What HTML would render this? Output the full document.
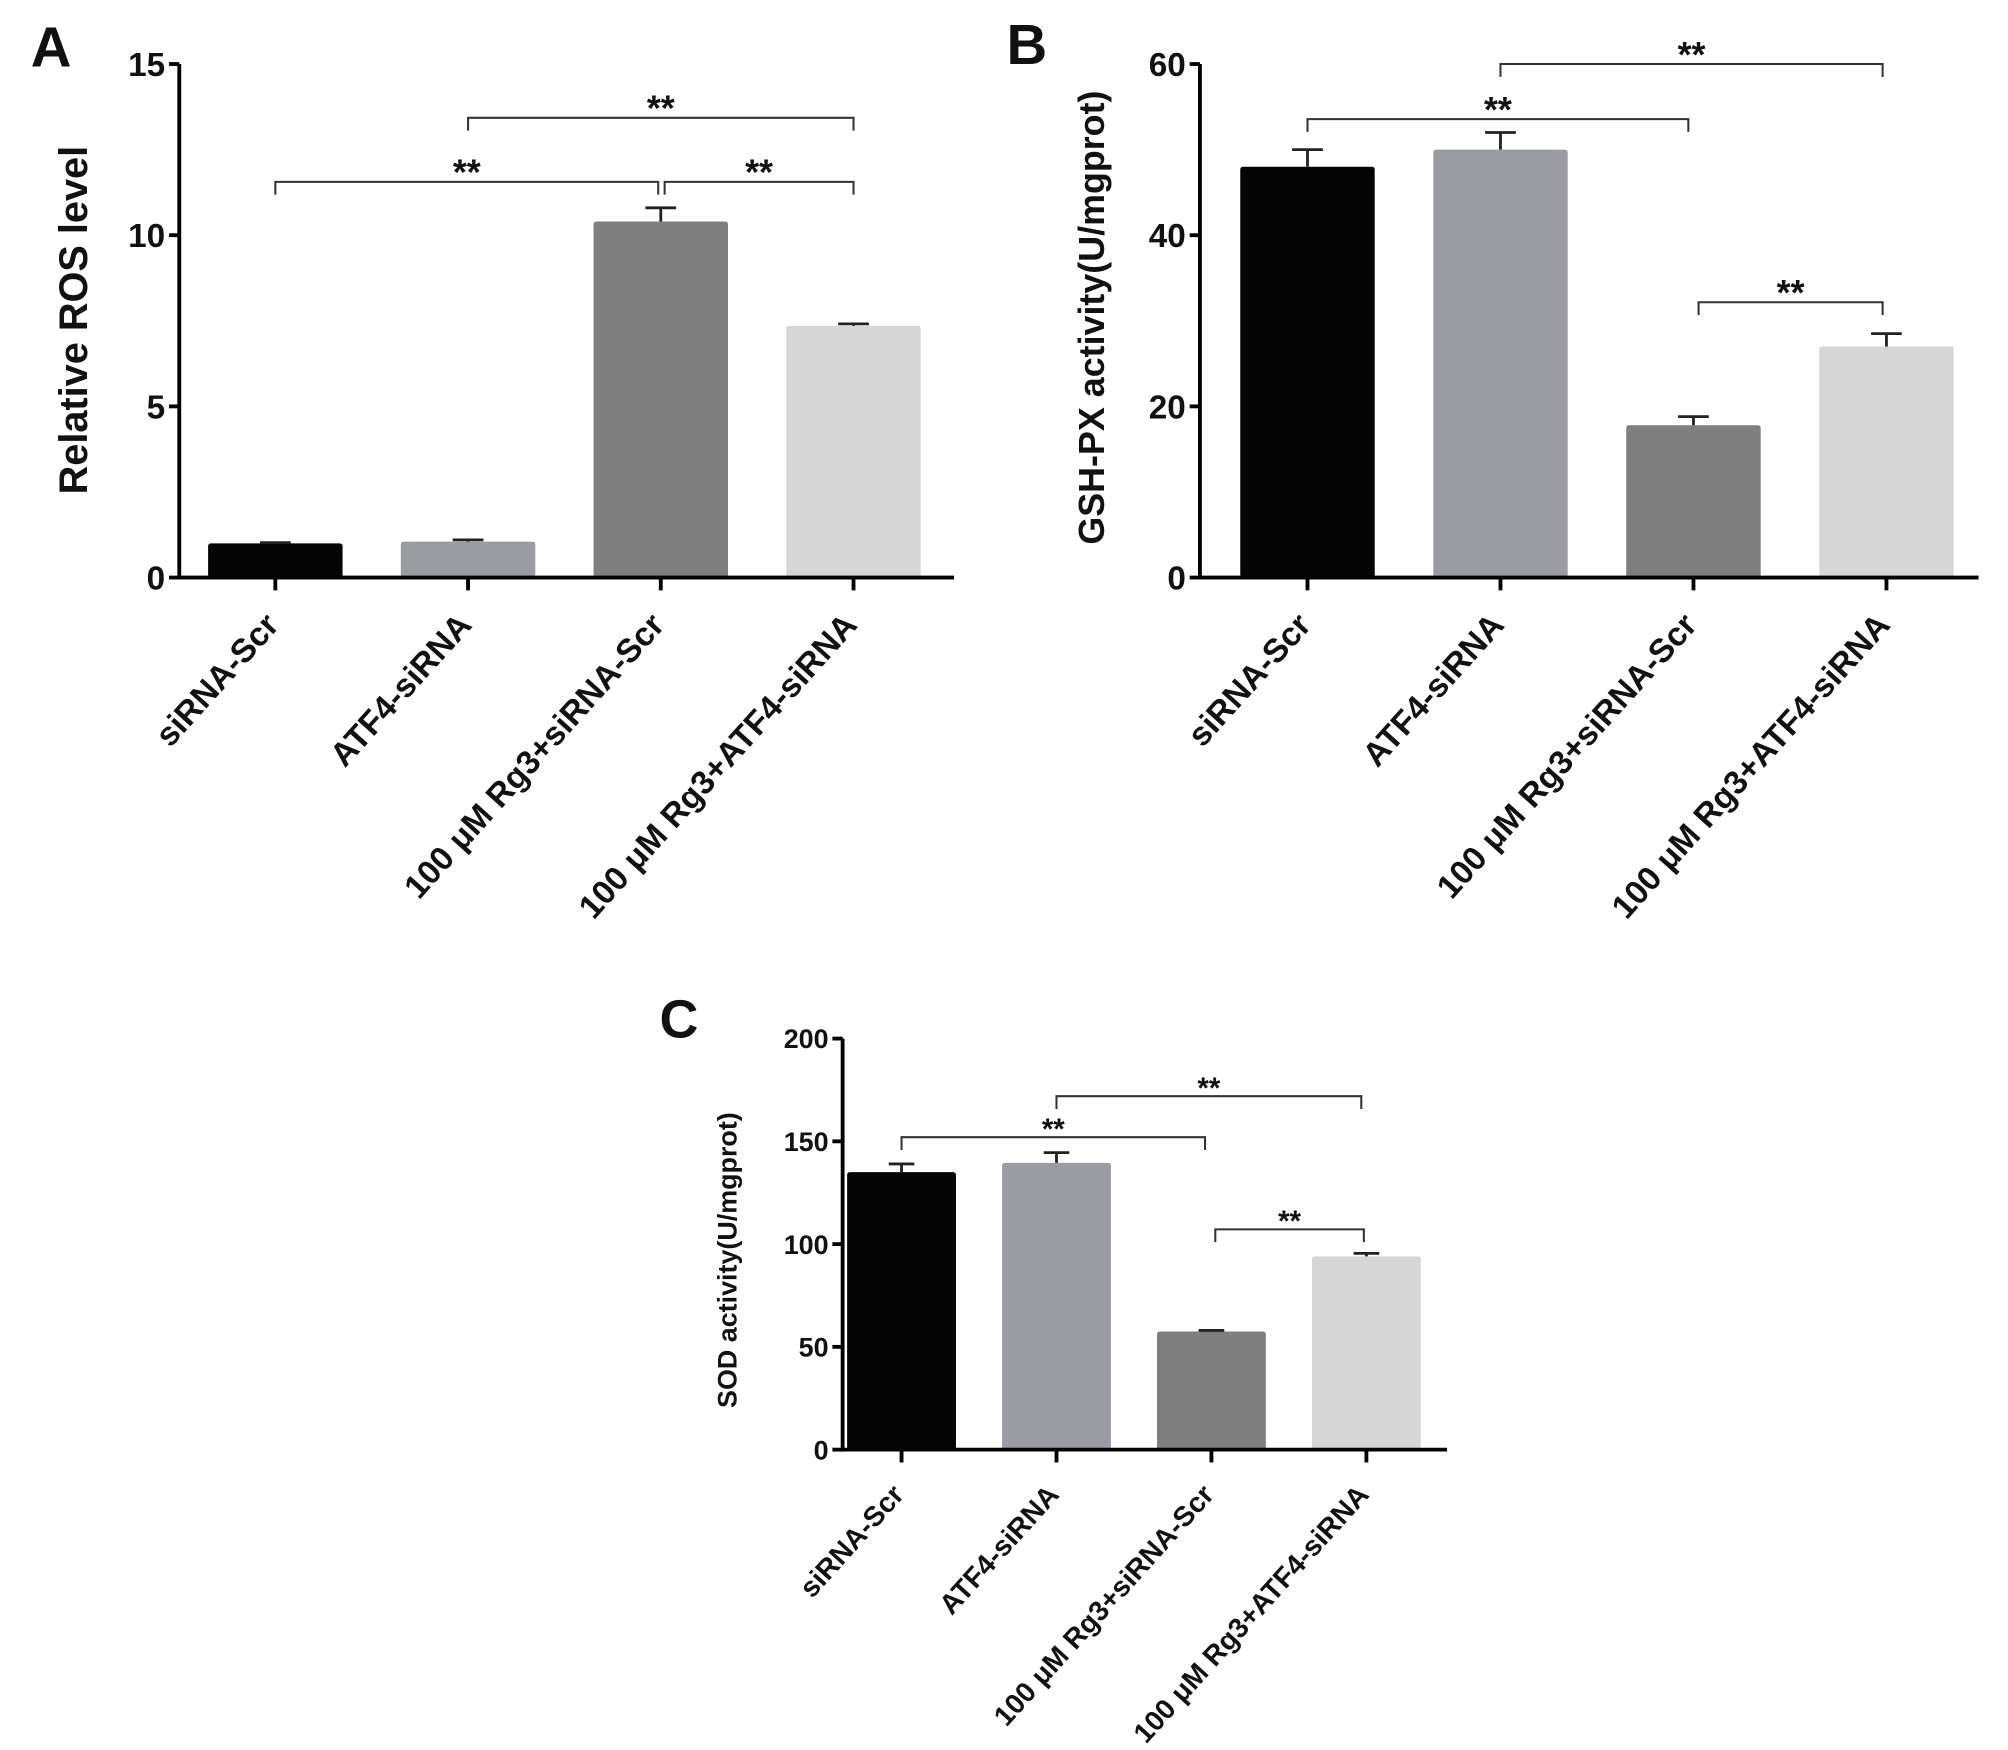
<!DOCTYPE html>
<html><head><meta charset="utf-8"><style>
html,body{margin:0;padding:0;background:#fff;width:2008px;height:1750px;overflow:hidden}
svg{display:block}
text{font-family:"Liberation Sans",Arial,sans-serif;font-weight:bold;fill:#111}
</style></head><body>
<svg id="fig" width="2008" height="1750" viewBox="0 0 2008 1750">
<rect width="2008" height="1750" fill="#fff"/>
<g id="root" transform="scale(1.2806)"></g>
</svg>
<script>
const categories = ["siRNA-Scr","ATF4-siRNA","100 \u03bcM Rg3+siRNA-Scr","100 \u03bcM Rg3+ATF4-siRNA"];
const colors = ["#050505","#9b9ba2","#7f7f7f","#d6d6d6"];
const rosValues = [1.0, 1.05, 10.4, 7.35];
const rosErrors = [0.02, 0.05, 0.4, 0.06];
const rosTicks = [0, 5, 10, 15];
const gshValues = [48, 50, 17.8, 27];
const gshErrors = [2, 2, 1, 1.5];
const gshTicks = [0, 20, 40, 60];
const sodValues = [135, 139.5, 57.5, 94];
const sodErrors = [4, 5, 0.5, 1.5];
const sodTicks = [0, 50, 100, 150, 200];
const rosSig = [[0,2],[2,3],[1,3]];
const gshSig = [[0,2],[1,3],[2,3]];
const sodSig = [[0,2],[1,3],[2,3]];

const NS="http://www.w3.org/2000/svg";
const root=document.getElementById('root');
function mk(tag,attrs,parent){const e=document.createElementNS(NS,tag);for(const k in attrs)e.setAttribute(k,attrs[k]);(parent||root).appendChild(e);return e;}

function panel(cfg){
  const g=mk('g',{});
  
  
  const ymax=cfg.ticks[cfg.ticks.length-1];
  const y=v=>cfg.y0-(v/ymax)*(cfg.y0-cfg.yTop);
  const x=i=>cfg.x0+cfg.step*i;
  const L=mk('text',{x:cfg.letterX,y:cfg.letterY,'font-size':cfg.letterSize},g);L.textContent=cfg.letter;
  
  
  cfg.values.forEach((v,i)=>{
    const r=mk('rect',{x:x(i)-cfg.bw/2,y:y(v),width:cfg.bw,height:cfg.y0-y(v),fill:colors[i],rx:2},g);
    
    
    const e=cfg.errors[i];
    const eb=mk('path',{d:`M${x(i)} ${y(v)} V${y(v+e)} M${x(i)-cfg.cap} ${y(v+e)} H${x(i)+cfg.cap}`,stroke:'#222','stroke-width':2.2,fill:'none'},g);
    
    
  });
  const ax=mk('path',{d:`M${cfg.axX} ${cfg.yTop} V${cfg.y0} H${cfg.axEnd}`,stroke:'#000','stroke-width':3,fill:'none'},g);
  
  
  cfg.ticks.forEach(t=>{
    mk('line',{x1:cfg.axX-8,x2:cfg.axX,y1:y(t),y2:y(t),stroke:'#000','stroke-width':3},g);
    const tl=mk('text',{x:cfg.axX-11,y:y(t)+cfg.tickSize*0.36,'font-size':cfg.tickSize,'text-anchor':'end'},g);
    tl.textContent=t;
    
    
  });
  categories.forEach((c,i)=>{
    mk('line',{x1:x(i),x2:x(i),y1:cfg.y0,y2:cfg.y0+10,stroke:'#000','stroke-width':3},g);
    const tx=x(i)+cfg.lblDx, ty=cfg.y0+cfg.lblDy;
    const t=mk('text',{x:tx,y:ty,'font-size':cfg.lblSize,'text-anchor':'end',transform:`rotate(-48 ${tx} ${ty})`},g);
    t.textContent=c;
    
    
  });
  const yt=mk('text',{x:0,y:0,'font-size':cfg.titleSize,'text-anchor':'middle',transform:`translate(${cfg.titleX} ${cfg.titleY}) rotate(-90)`},g);
  yt.textContent=cfg.title;
  
  
  cfg.sig.forEach((s,k)=>{
    const by=cfg.sigY[k];
    const a=x(s[0])+(cfg.sigOff[k]?cfg.sigOff[k][0]:0), b=x(s[1])+(cfg.sigOff[k]?cfg.sigOff[k][1]:0);
    const br=mk('path',{d:`M${a} ${by+10} V${by} H${b} V${by+10}`,stroke:'#333','stroke-width':1.6,fill:'none'},g);
    
    
    const st=mk('text',{x:(a+b)/2,y:by-2+cfg.starSize*0.15,'font-size':cfg.starSize,'text-anchor':'middle'},g);
    st.textContent='**';
    
    
  });
}

panel({name:'panel-a-ros',letter:'A',letterX:24,letterY:52,letterSize:44,values:rosValues,errors:rosErrors,ticks:rosTicks,
  y0:451,yTop:50,axX:140,axEnd:745,x0:215,step:150.5,bw:105,cap:12,tickSize:26,lblSize:26,lblDx:4,lblDy:38,
  title:'Relative  ROS level',titleX:68,titleY:250,titleSize:31,sig:rosSig,sigY:[142,142,92],sigOff:[[0,-2],[3,0],[0,0]],starSize:28});
panel({name:'panel-b-gsh-px',letter:'B',letterX:786,letterY:50,letterSize:44,values:gshValues,errors:gshErrors,ticks:gshTicks,
  y0:451,yTop:50,axX:937,axEnd:1545,x0:1021,step:150.7,bw:105,cap:12,tickSize:26,lblSize:26,lblDx:4,lblDy:38,
  title:'GSH-PX activity(U/mgprot)',titleX:862,titleY:248,titleSize:28,sig:gshSig,sigY:[93,50,236],sigOff:[[0,-4],[0,-3],[4,-3]],starSize:28});
panel({name:'panel-c-sod',letter:'C',letterX:515,letterY:810,letterSize:42,values:sodValues,errors:sodErrors,ticks:sodTicks,
  y0:1132,yTop:811,axX:658,axEnd:1130,x0:704,step:121,bw:85,cap:10,tickSize:21,lblSize:22,lblDx:3,lblDy:36,
  title:'SOD activity(U/mgprot)',titleX:575,titleY:984,titleSize:21,sig:sodSig,sigY:[888,856,960],sigOff:[[0,-5],[0,-4],[3,-2]],starSize:23});
</script>
</body></html>
